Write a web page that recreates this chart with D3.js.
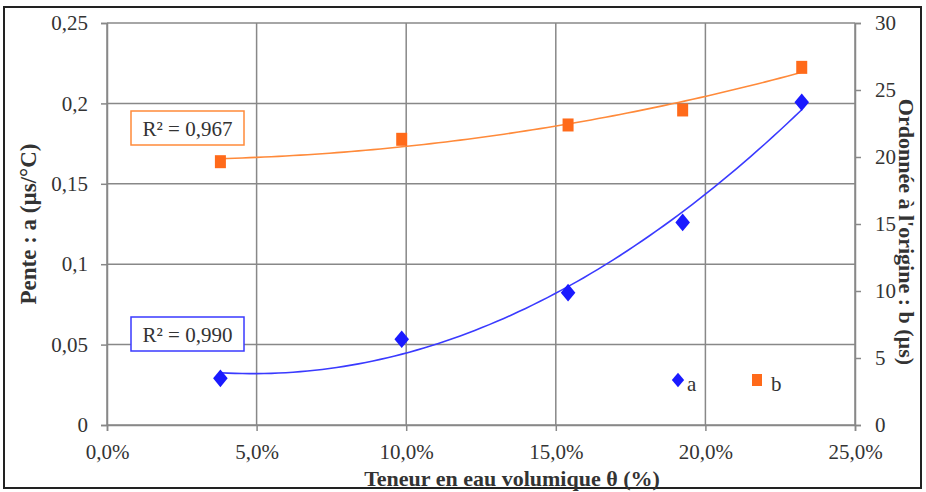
<!DOCTYPE html>
<html lang="fr">
<head>
    <meta charset="UTF-8">
    <script src="https://d3js.org/d3.v7.min.js"></script>
    <title>Pente et ordonnee</title>
    <style>
        body{margin:0;background:#fff;}
        text{font-family:"Liberation Serif","Times New Roman",serif;fill:#333;}
    </style>
</head>
<body>
    <svg id="chart" width="926" height="492"></svg>

    <script>
        // data
        const teneur = [0.0379, 0.0985, 0.1541, 0.1924, 0.2322];
        const pente = [0.029, 0.0533, 0.0823, 0.126, 0.2007];       // a, left axis
        const ordonnee = [19.65, 21.32, 22.39, 23.51, 26.69];      // b, right axis
        const xTicks = [0, 0.05, 0.10, 0.15, 0.20, 0.25];
        const leftTicks = [0, 0.05, 0.1, 0.15, 0.2, 0.25];
        const rightTicks = [0, 5, 10, 15, 20, 25, 30];
        const seriesNames = ["a", "b"];
        const r2Labels = ["R² = 0,990", "R² = 0,967"];

        const svg = d3.select("svg#chart");
        const margin = {top:23, right:71, bottom:67, left:107};
        const width = +svg.attr("width");
        const height = +svg.attr("height");
        const chartWidth = width - margin.left - margin.right;
        const chartHeight = height - margin.top - margin.bottom;

        const blue = "#1a1aff";
        const orange = "#ff6a1a";
        const grid = "#888";

        const fr = d3.formatLocale({decimal:",", thousands:" ", grouping:[3], currency:["","€"]});

        // outer frame
        svg.append("rect").attr("x",4).attr("y",7).attr("width",917).attr("height",481)
            .attr("fill","none").attr("stroke","#222").attr("stroke-width",2);

        const chartArea = svg.append("g")
            .attr("transform","translate("+margin.left+","+margin.top+")");

        const xScale = d3.scaleLinear().domain([0,0.25]).range([0,chartWidth]);
        const yLeft = d3.scaleLinear().domain([0,0.25]).range([chartHeight,0]);
        const yRight = d3.scaleLinear().domain([0,30]).range([chartHeight,0]);

        // grid
        chartArea.append("g").selectAll("line").data(leftTicks).join("line")
            .attr("x1",0).attr("x2",chartWidth)
            .attr("y1",d=>yLeft(d)).attr("y2",d=>yLeft(d))
            .attr("stroke",grid).attr("stroke-width",1.5);
        chartArea.append("g").selectAll("line").data(xTicks).join("line")
            .attr("x1",d=>xScale(d)).attr("x2",d=>xScale(d))
            .attr("y1",0).attr("y2",chartHeight)
            .attr("stroke",grid).attr("stroke-width",1.5);

        // axes
        function styleAxis(g){
            g.select(".domain").attr("stroke",grid).attr("stroke-width",1.5);
            g.selectAll(".tick line").attr("stroke",grid).attr("stroke-width",1.5);
            g.selectAll(".tick text").attr("font-size",21).attr("fill","#333")
                .attr("font-family","Liberation Serif, serif");
        }
        chartArea.append("g")
            .attr("transform","translate(0,"+chartHeight+")")
            .call(d3.axisBottom(xScale).tickValues(xTicks).tickSize(6).tickPadding(13)
                .tickFormat(fr.format(".1%")))
            .call(styleAxis);
        chartArea.append("g")
            .call(d3.axisLeft(yLeft).tickValues(leftTicks).tickSize(6).tickPadding(13)
                .tickFormat(d=>fr.format("~g")(d)))
            .call(styleAxis);
        chartArea.append("g")
            .attr("transform","translate("+chartWidth+",0)")
            .call(d3.axisRight(yRight).tickValues(rightTicks).tickSize(6).tickPadding(14))
            .call(styleAxis);

        // axis titles
        svg.append("text").attr("x",512).attr("y",486).attr("text-anchor","middle")
            .attr("font-size",22).attr("font-weight","bold").attr("fill","#222")
            .text("Teneur en eau volumique θ (%)");
        svg.append("text").attr("transform","translate(36,"+(margin.top+chartHeight/2)+") rotate(-90)")
            .attr("text-anchor","middle").attr("font-size",23).attr("font-weight","bold").attr("fill","#222")
            .text("Pente : a (µs/°C)");
        svg.append("text").attr("transform","translate(899,"+(margin.top+chartHeight/2+8)+") rotate(90)")
            .attr("text-anchor","middle").attr("font-size",22).attr("font-weight","bold").attr("fill","#222")
            .text("Ordonnée à l'origine : b (µs)");

        // polynomial (order 2) trend, least squares like the spreadsheet
        function polyfit2(xs, ys){
            let s=[0,0,0,0,0], t=[0,0,0];
            xs.forEach((x,i)=>{
                for(let k=0;k<5;k++) s[k]+=Math.pow(x,k);
                for(let k=0;k<3;k++) t[k]+=ys[i]*Math.pow(x,k);
            });
            const M=[[s[0],s[1],s[2],t[0]],[s[1],s[2],s[3],t[1]],[s[2],s[3],s[4],t[2]]];
            for(let i=0;i<3;i++){
                for(let j=i+1;j<3;j++){
                    const f=M[j][i]/M[i][i];
                    for(let k=i;k<4;k++) M[j][k]-=f*M[i][k];
                }
            }
            const c=[0,0,0];
            for(let i=2;i>=0;i--){
                let v=M[i][3];
                for(let k=i+1;k<3;k++) v-=M[i][k]*c[k];
                c[i]=v/M[i][i];
            }
            return x=>c[0]+c[1]*x+c[2]*x*x;
        }
        const fitA = polyfit2(teneur, pente);
        const fitB = polyfit2(teneur, ordonnee);
        const xs = d3.range(teneur[0], teneur[4]+1e-9, (teneur[4]-teneur[0])/80);

        chartArea.append("path").datum(xs)
            .attr("fill","none").attr("stroke","#ff8a3a").attr("stroke-width",1.6)
            .attr("d", d3.line().x(d=>xScale(d)).y(d=>yRight(fitB(d))));
        chartArea.append("path").datum(xs)
            .attr("fill","none").attr("stroke","#3a3aff").attr("stroke-width",1.6)
            .attr("d", d3.line().x(d=>xScale(d)).y(d=>yLeft(fitA(d))));

        // markers
        const diamond = d3.symbol().type(d3.symbolDiamond2).size(150);
        chartArea.append("g").selectAll("path").data(teneur).join("path")
            .attr("transform",(d,i)=>"translate("+xScale(d)+","+yLeft(pente[i])+") scale(0.95,1.15)")
            .attr("d",diamond).attr("fill",blue);
        chartArea.append("g").selectAll("rect").data(teneur).join("rect")
            .attr("x",d=>xScale(d)-5.5).attr("y",(d,i)=>yRight(ordonnee[i])-6.5)
            .attr("width",11).attr("height",13).attr("fill",orange);

        // R² boxes
        const boxes = [{y:317, c:"#3a3aff"}, {y:111, c:"#ff8a3a"}];
        boxes.forEach((b,i)=>{
            svg.append("rect").attr("x",131).attr("y",b.y).attr("width",113).attr("height",34)
                .attr("fill","#fff").attr("stroke",b.c).attr("stroke-width",1.5);
            svg.append("text").attr("x",187.5).attr("y",b.y+25).attr("text-anchor","middle")
                .attr("font-size",21).text(r2Labels[i]);
        });

        // legend
        const legend = svg.append("g");
        legend.append("path").attr("transform","translate(678,380) scale(0.8,0.95)")
            .attr("d",diamond).attr("fill",blue);
        legend.append("text").attr("x",687).attr("y",391).attr("font-size",21).text(seriesNames[0]);
        legend.append("rect").attr("x",752).attr("y",374).attr("width",10).attr("height",12).attr("fill",orange);
        legend.append("text").attr("x",771).attr("y",391).attr("font-size",21).text(seriesNames[1]);
    </script>
</body>
</html>
